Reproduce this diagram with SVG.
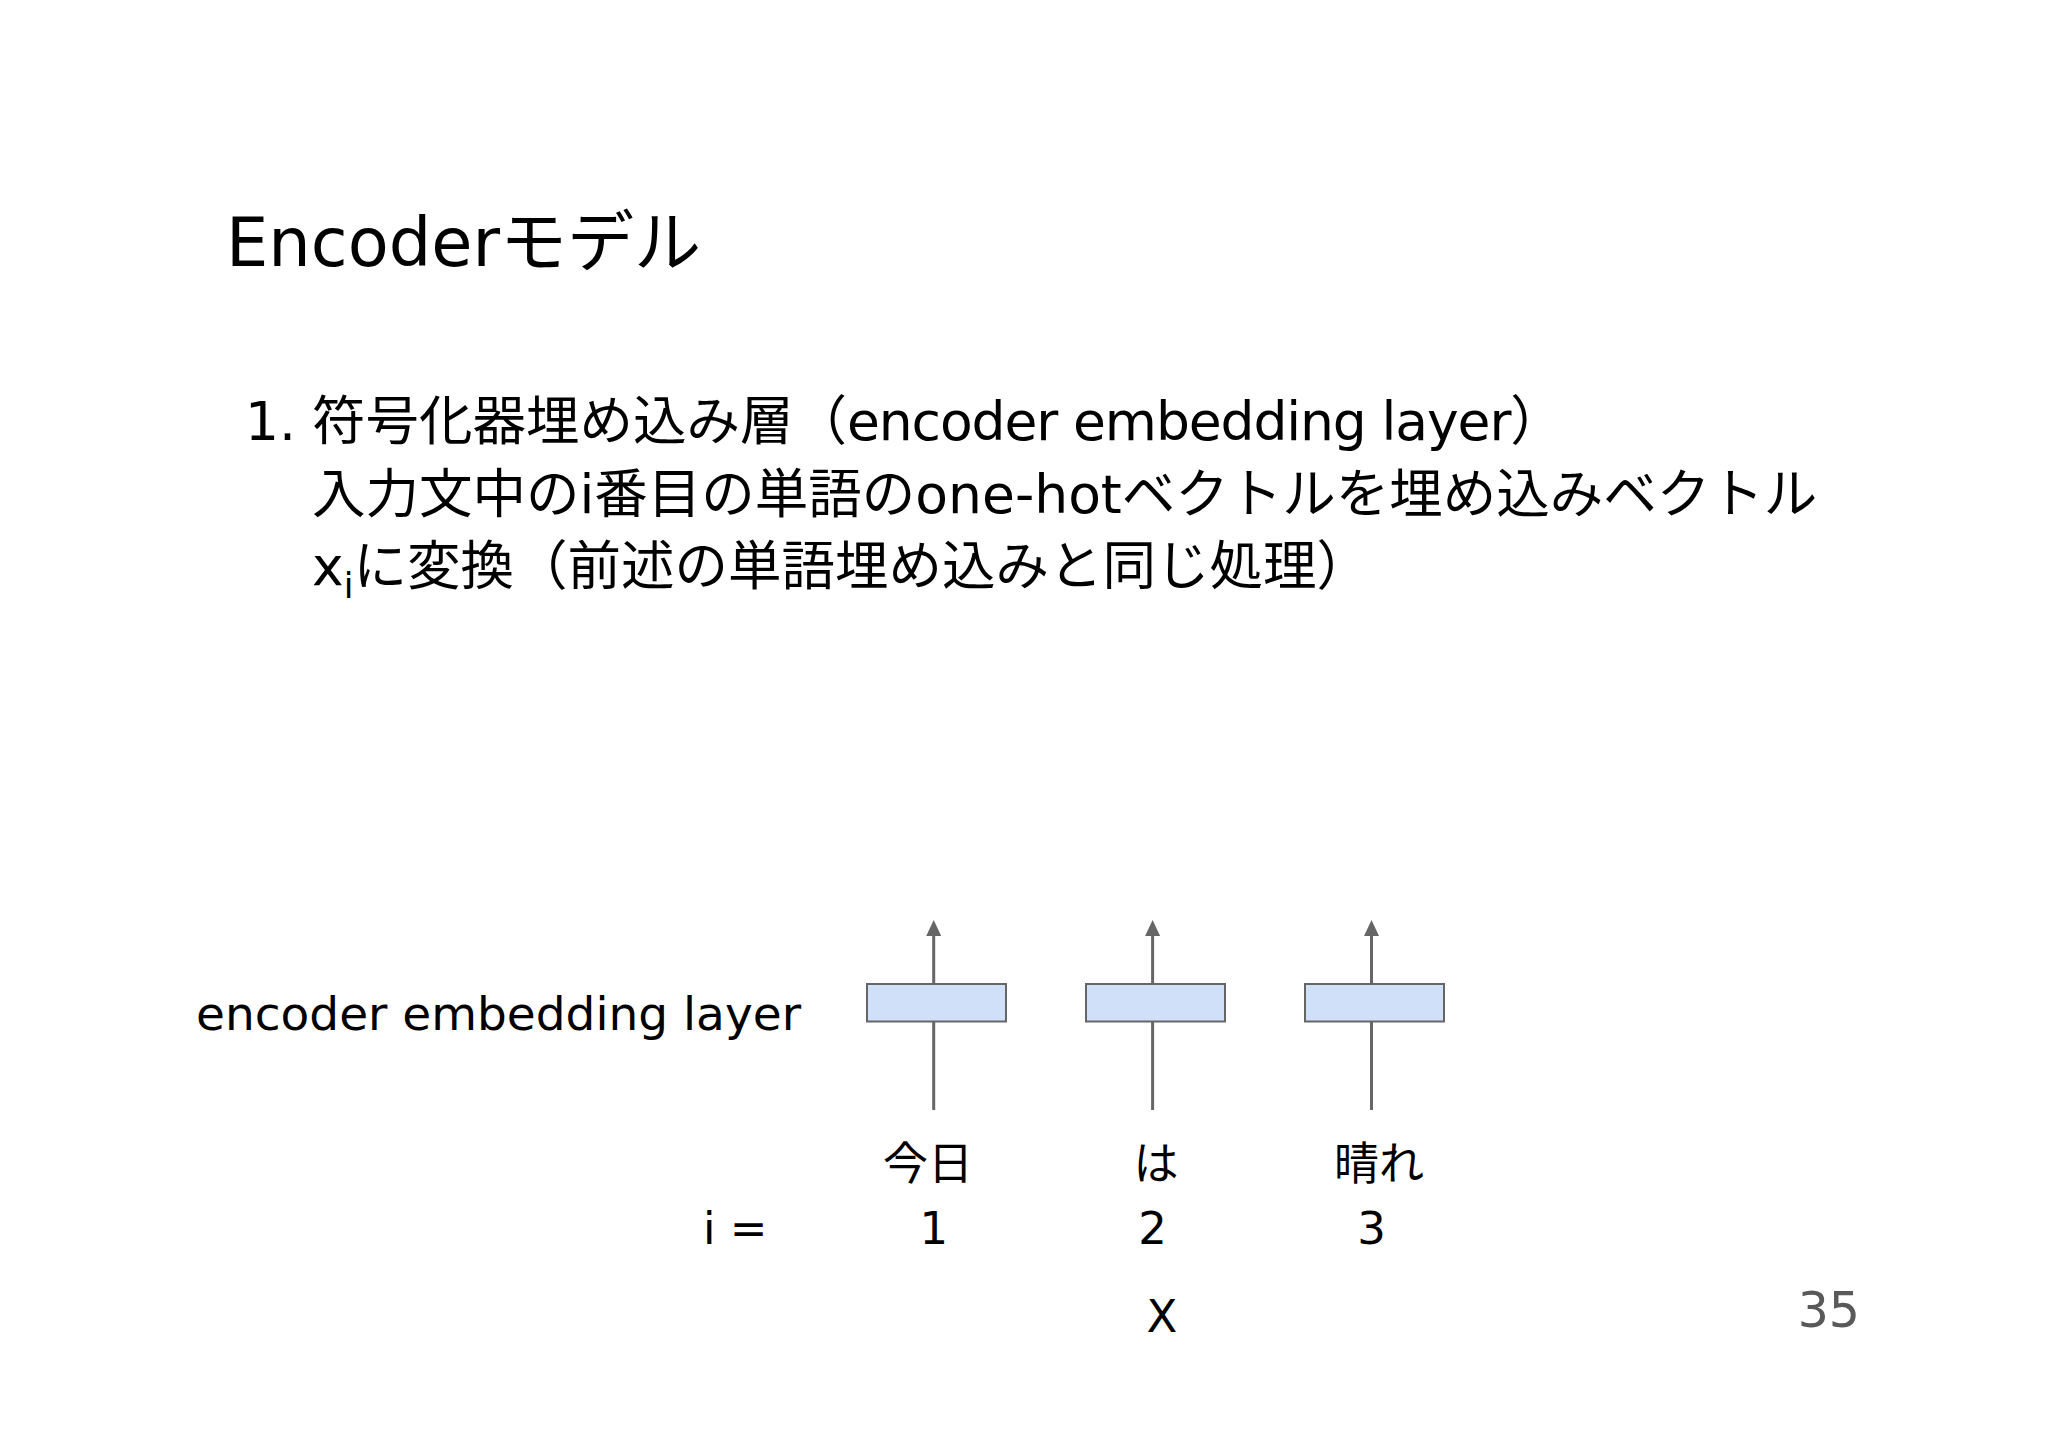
<svg xmlns="http://www.w3.org/2000/svg" width="2048" height="1447" viewBox="0 0 2048 1447">
<style>
text{font-family:"DejaVu Sans","Noto Sans CJK JP",sans-serif;fill:#000}
.body{font-size:53.5px}
.lbl{font-size:45px}
.box{fill:#d0e0f9;stroke:#666;stroke-width:2}
.conn{stroke:#666;stroke-width:3;fill:none}
</style>
<defs>
<marker id="ah" viewBox="0 0 16 16" refX="9" refY="8" markerWidth="16" markerHeight="16" markerUnits="userSpaceOnUse" orient="auto">
<path d="M0,0.5 L16,8 L0,15.5 z" fill="#666"/>
</marker>
</defs>
<rect width="2048" height="1447" fill="#fff"/>
<g id="title"><text x="226" y="266" font-size="67">Encoderモデル</text></g>
<g id="description">
<text class="body" x="245" y="440">1.</text>
<text class="body" x="312" y="440">符号化器埋め込み層（<tspan letter-spacing="-1.1">encoder embedding layer</tspan>）</text>
<text class="body" x="312" y="513">入力文中のi番目の単語のone-hotベクトルを埋め込みベクトル</text>
<text class="body" x="312" y="585">x<tspan font-size="35" dy="13">i</tspan><tspan dy="-13">に変換（前述の単語埋め込みと同じ処理）</tspan></text>
</g>
<g id="connectors">
<line class="conn" x1="933.7" y1="1110" x2="933.7" y2="1022"/>
<line class="conn" x1="933.7" y1="984" x2="933.7" y2="927" marker-end="url(#ah)"/>
<line class="conn" x1="1152.6" y1="1110" x2="1152.6" y2="1022"/>
<line class="conn" x1="1152.6" y1="984" x2="1152.6" y2="927" marker-end="url(#ah)"/>
<line class="conn" x1="1371.5" y1="1110" x2="1371.5" y2="1022"/>
<line class="conn" x1="1371.5" y1="984" x2="1371.5" y2="927" marker-end="url(#ah)"/>
</g>
<g id="layer-label"><text x="196" y="1030" font-size="47">encoder embedding layer</text></g>
<g id="emb1"><rect class="box" x="867" y="984" width="139" height="37.5"/></g>
<g id="emb2"><rect class="box" x="1086" y="984" width="139" height="37.5"/></g>
<g id="emb3"><rect class="box" x="1305" y="984" width="139" height="37.5"/></g>
<g id="words">
<text class="lbl" x="928" y="1180" text-anchor="middle">今日</text>
<text class="lbl" x="1156" y="1180" text-anchor="middle">は</text>
<text class="lbl" x="1379" y="1180" text-anchor="middle">晴れ</text>
</g>
<g id="indices">
<text class="lbl" x="703" y="1244">i =</text>
<text class="lbl" x="933.7" y="1244" text-anchor="middle">1</text>
<text class="lbl" x="1152.6" y="1244" text-anchor="middle">2</text>
<text class="lbl" x="1371.5" y="1244" text-anchor="middle">3</text>
<text class="lbl" x="1162" y="1332" text-anchor="middle">X</text>
</g>
<g id="page-number"><text x="1860" y="1327" font-size="49" text-anchor="end" style="fill:#595959">35</text></g>
</svg>
